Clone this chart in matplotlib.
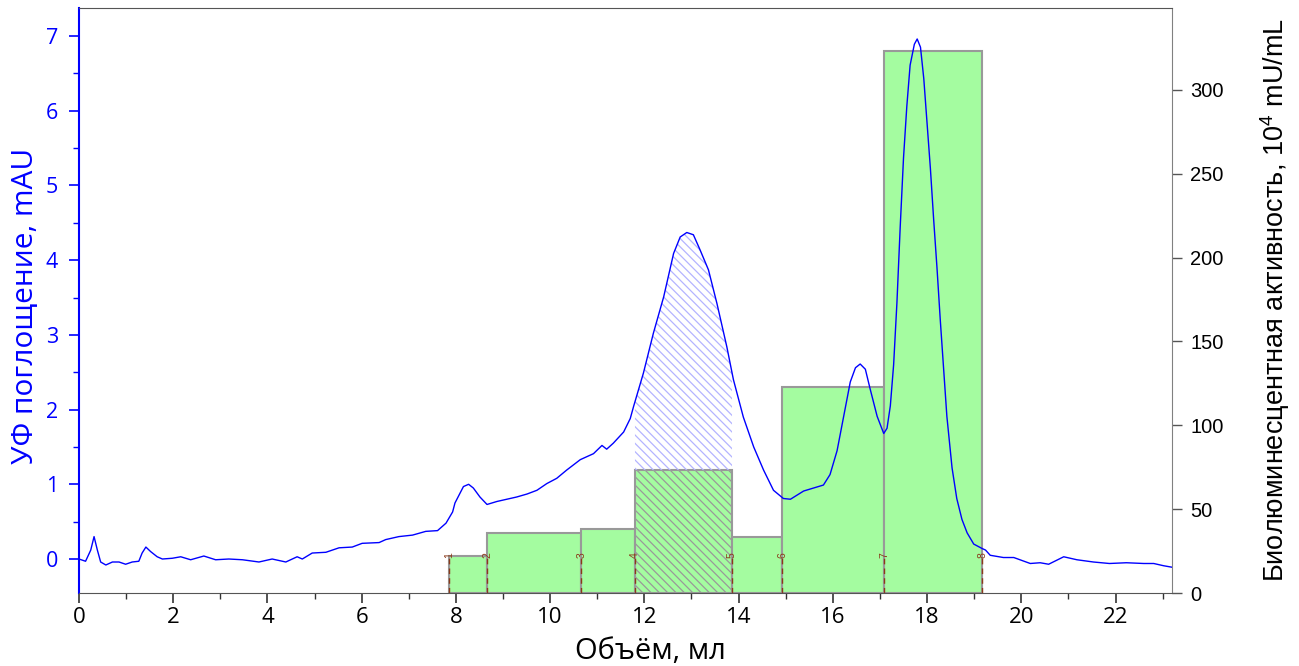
import numpy as np
import matplotlib
matplotlib.use("Agg")
import matplotlib.pyplot as plt
from matplotlib.ticker import MultipleLocator

# UV trace (volume in ml, absorbance in mAU)
vol = [0.00, 0.14, 0.25, 0.32, 0.39, 0.46, 0.57, 0.71, 0.85, 0.99, 1.13, 1.27, 1.34, 1.42,
       1.52, 1.66, 1.77, 1.98, 2.16, 2.37, 2.65, 2.90, 3.18, 3.47, 3.82, 4.10, 4.39, 4.63,
       4.74, 4.95, 5.24, 5.52, 5.80, 6.01, 6.37, 6.51, 6.79, 7.08, 7.36, 7.61, 7.79, 7.93,
       7.98, 8.16, 8.27, 8.37, 8.51, 8.66, 8.87, 9.08, 9.29, 9.51, 9.72, 9.93, 10.14, 10.35,
       10.64, 10.92, 11.10, 11.20, 11.34, 11.56, 11.70, 11.77, 11.98, 12.19, 12.41, 12.62,
       12.76, 12.90, 13.04, 13.18, 13.36, 13.54, 13.75, 13.89, 14.10, 14.32, 14.53, 14.74,
       14.95, 15.10, 15.38, 15.59, 15.80, 15.94, 16.09, 16.23, 16.37, 16.48, 16.58, 16.69,
       16.79, 16.94, 17.08, 17.15, 17.22, 17.29, 17.36, 17.43, 17.50, 17.57, 17.64, 17.73,
       17.79, 17.86, 17.93, 18.00, 18.07, 18.14, 18.21, 18.28, 18.35, 18.42, 18.53, 18.63,
       18.74, 18.85, 18.99, 19.17, 19.24, 19.34, 19.62, 19.84, 20.19, 20.40, 20.58, 20.90,
       21.18, 21.53, 21.87, 22.23, 22.60, 22.81, 23.02, 23.20]
uv = [0.00, -0.03, 0.12, 0.30, 0.12, -0.04, -0.08, -0.04, -0.04, -0.07, -0.04, -0.03, 0.08, 0.16,
      0.10, 0.03, 0.00, 0.01, 0.03, -0.01, 0.04, -0.01, 0.00, -0.01, -0.04, 0.00, -0.04, 0.03,
      0.00, 0.08, 0.09, 0.15, 0.16, 0.21, 0.22, 0.26, 0.30, 0.32, 0.37, 0.38, 0.48, 0.63,
      0.75, 0.97, 1.00, 0.95, 0.83, 0.73, 0.77, 0.80, 0.83, 0.87, 0.92, 1.01, 1.08, 1.19,
      1.33, 1.41, 1.52, 1.47, 1.55, 1.70, 1.88, 2.04, 2.49, 3.02, 3.51, 4.09,
      4.31, 4.37, 4.34, 4.14, 3.87, 3.42, 2.84, 2.40, 1.90, 1.50, 1.19, 0.92,
      0.81, 0.80, 0.91, 0.95, 0.99, 1.13, 1.45, 1.91, 2.37, 2.56, 2.61, 2.54,
      2.28, 1.91, 1.68, 1.75, 2.05, 2.60, 3.43, 4.45, 5.37, 6.06, 6.61, 6.89,
      6.96, 6.85, 6.43, 5.83, 5.23, 4.54, 3.90, 3.20, 2.56, 1.91, 1.22, 0.81,
      0.53, 0.35, 0.20, 0.14, 0.12, 0.05, 0.02, 0.02, -0.06, -0.05, -0.07, 0.03,
      -0.01, -0.04, -0.06, -0.05, -0.06, -0.06, -0.09, -0.11]

# fraction boundaries (ml) and bioluminescent activity per fraction (10^4 mU/mL)
frac_edges = [7.86, 8.66, 10.66, 11.80, 13.86, 14.93, 17.09, 19.17]
frac_labels = ["1", "2", "3", "4", "5", "6", "7", "8"]
activity = [22.0, 35.7, 38.0, 73.3, 33.2, 123.0, 323.5]
hatched_frac = 3  # fraction 4

ylim_uv = (-0.455, 7.375)
ylim_act = (0, 348.9)

BLUE = "#0000FF"
GREEN = "#A4FCA0"
GRAY = "#999999"
BROWN = "#8B3A1A"

plt.rcParams["mathtext.fontset"] = "custom"
plt.rcParams["mathtext.rm"] = "Liberation Sans"
plt.rcParams["hatch.linewidth"] = 0.9

fig = plt.figure(figsize=(12.99, 6.66), dpi=100)
ax1 = fig.add_axes([0.0608, 0.1096, 0.8415, 0.8784])
ax2 = ax1.twinx()
ax1.set_zorder(ax2.get_zorder() + 1)
ax1.patch.set_visible(False)

# activity bars
widths = np.diff(frac_edges)
for i in range(len(activity)):
    ax2.bar(frac_edges[i], activity[i], width=widths[i], align="edge",
            color=GREEN, edgecolor=GRAY, linewidth=1.5,
            hatch="\\\\\\\\" if i == hatched_frac else None, zorder=1)

# fraction markers
for xe, lab in zip(frac_edges, frac_labels):
    ax2.plot([xe, xe], [0, 22.7], color=BROWN, lw=1.0, ls=(0, (4, 3)), zorder=3)
    ax2.text(xe, 22.7, lab, color=BROWN, fontsize=7.5, rotation=90,
             ha="center", va="center", zorder=4, family="Liberation Sans")

ax2.set_ylim(*ylim_act)

# hatched area under UV peak above the selected fraction bar
a, b = frac_edges[hatched_frac], frac_edges[hatched_frac + 1]
vol_arr = np.array(vol)
xs = np.concatenate(([a], vol_arr[(vol_arr > a) & (vol_arr < b)], [b]))
ys = np.interp(xs, vol, uv)
bar_top = ylim_uv[0] + activity[hatched_frac] / ylim_act[1] * (ylim_uv[1] - ylim_uv[0])
ax1.fill_between(xs, bar_top, ys, facecolor="none", edgecolor="#B4B4FF",
                 linewidth=0, hatch="\\\\\\\\", zorder=1)

ax1.plot(vol, uv, color=BLUE, lw=1.0, zorder=2)

ax1.set_xlim(0, 23.2)
ax1.set_ylim(*ylim_uv)

# left axis styling
ax1.yaxis.set_major_locator(MultipleLocator(1))
ax1.yaxis.set_minor_locator(MultipleLocator(0.5))
ax1.tick_params(axis="y", which="both", colors=BLUE, direction="out")
ax1.tick_params(axis="y", which="major", length=7, width=1.2, labelsize=15.5, pad=8)
ax1.tick_params(axis="y", which="minor", length=4, width=1.0)
for t in ax1.get_yticklabels():
    t.set_family("Open Sans")
ax1.spines["left"].set_color(BLUE)
ax1.spines["left"].set_linewidth(1.5)
ax1.set_ylabel("УФ поглощение, mAU", color=BLUE, fontsize=21.5, family="Open Sans")
ax1.yaxis.set_label_coords(-0.036, 0.49)

# bottom axis
ax1.xaxis.set_major_locator(MultipleLocator(2))
ax1.xaxis.set_minor_locator(MultipleLocator(1))
ax1.tick_params(axis="x", which="both", colors="#333333", direction="out")
ax1.tick_params(axis="x", which="major", length=7, width=1.2, labelsize=16,
                labelcolor="black", pad=3)
ax1.tick_params(axis="x", which="minor", length=4, width=1.0)
for t in ax1.get_xticklabels():
    t.set_family("Open Sans")
ax1.set_xlabel("Объём, мл", fontsize=21, family="Open Sans")
ax1.xaxis.set_label_coords(0.523, -0.075)
for s in ["bottom", "top"]:
    ax1.spines[s].set_color("#555555")
ax1.spines["right"].set_visible(False)

# right axis
ax2.yaxis.set_major_locator(MultipleLocator(50))
ax2.tick_params(axis="y", which="major", length=7, width=1.0, colors="#555555",
                labelsize=14.5, labelcolor="black", pad=6)
for t in ax2.get_yticklabels():
    t.set_family("Liberation Sans")
ax2.spines["right"].set_color("#808080")
for s in ["left", "top", "bottom"]:
    ax2.spines[s].set_visible(False)
ax2.set_ylabel("Биолюминесцентная активность, 10$^{4}$ mU/mL", fontsize=19.5,
               family="Liberation Sans")
ax2.yaxis.set_label_coords(1.079, 0.5)

fig.savefig("out.png", dpi=100)
